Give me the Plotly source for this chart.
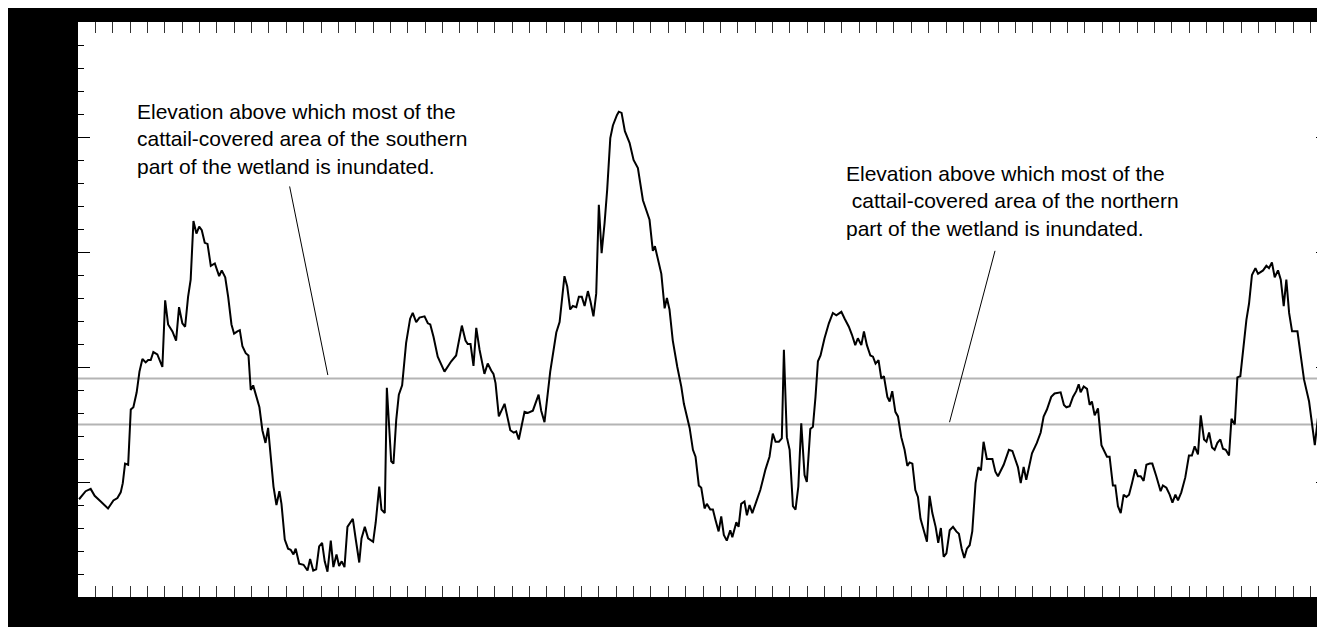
import plotly.graph_objects as go

# Time axis (months from start of record) and water-level elevation (ft above an arbitrary datum)
months = [0.06, 0.44, 0.73, 0.96, 1.31, 1.73, 2.04, 2.27, 2.46, 2.58, 2.71, 2.89, 3.04, 3.19, 3.38, 3.54, 3.71, 3.90, 4.04, 4.19,
          4.34, 4.57, 4.86, 5.02, 5.19, 5.44, 5.65, 5.82, 6.01, 6.17, 6.34, 6.49, 6.65, 6.82, 6.98, 7.13, 7.30, 7.46, 7.65, 7.88,
          8.13, 8.28, 8.48, 8.65, 8.84, 8.99, 9.18, 9.32, 9.47, 9.66, 9.82, 9.95, 10.09, 10.28, 10.45, 10.62, 10.80, 10.95, 11.10, 11.26,
          11.43, 11.60, 11.72, 11.91, 12.10, 12.25, 12.41, 12.54, 12.74, 12.99, 13.22, 13.37, 13.55, 13.72, 13.89, 14.06, 14.21, 14.37, 14.56, 14.71,
          14.89, 15.04, 15.19, 15.35, 15.52, 15.83, 16.00, 16.20, 16.33, 16.52, 16.71, 17.00, 17.15, 17.35, 17.48, 17.67, 17.79, 18.04, 18.17, 18.33,
          18.48, 18.67, 18.90, 19.13, 19.28, 19.48, 19.67, 19.96, 20.15, 20.29, 20.48, 20.72, 21.11, 21.50, 21.78, 22.11, 22.32, 22.45, 22.61, 22.78,
          22.94, 23.13, 23.41, 23.60, 23.80, 23.93, 24.05, 24.24, 24.57, 24.90, 25.10, 25.24, 25.39, 25.72, 25.91, 26.20, 26.53, 26.68, 26.87, 27.20,
          27.55, 27.74, 28.02, 28.18, 28.35, 28.50, 28.70, 28.85, 29.02, 29.18, 29.37, 29.52, 29.69, 29.85, 30.00, 30.16, 30.33, 30.48, 30.66, 30.81,
          31.04, 31.15, 31.31, 31.50, 31.77, 32.00, 32.25, 32.54, 32.92, 33.11, 33.23, 33.60, 33.79, 33.92, 34.07, 34.26, 34.52, 34.75, 34.90, 35.07,
          35.23, 35.42, 35.57, 35.76, 35.90, 36.09, 36.22, 36.42, 36.57, 36.72, 36.90, 37.05, 37.20, 37.37, 37.57, 37.69, 37.92, 38.05, 38.20, 38.39,
          38.53, 38.68, 38.84, 39.07, 39.30, 39.45, 39.60, 39.83, 40.02, 40.18, 40.37, 40.54, 40.66, 40.83, 40.99, 41.18, 41.33, 41.49, 41.66, 41.85,
          41.98, 42.18, 42.33, 42.48, 42.62, 42.77, 43.00, 43.25, 43.48, 43.68, 43.97, 44.16, 44.40, 44.58, 44.77, 44.92, 45.12, 45.27, 45.44, 45.64,
          45.79, 45.94, 46.11, 46.27, 46.42, 46.62, 46.75, 46.90, 47.08, 47.23, 47.42, 47.61, 47.77, 47.90, 48.06, 48.23, 48.38, 48.53, 48.71, 48.90,
          49.05, 49.21, 49.40, 49.55, 49.70, 49.86, 50.02, 50.21, 50.40, 50.59, 50.74, 50.90, 51.05, 51.20, 51.36, 51.51, 51.70, 51.86, 52.01, 52.16,
          52.35, 52.67, 52.84, 52.99, 53.32, 53.62, 53.82, 54.14, 54.30, 54.47, 54.62, 54.95, 55.23, 55.45, 55.62, 55.81, 56.06, 56.25, 56.60, 56.79,
          56.93, 57.12, 57.31, 57.50, 57.64, 57.75, 57.93, 58.12, 58.27, 58.40, 58.56, 58.75, 58.95, 59.14, 59.27, 59.42, 59.61, 59.75, 59.90, 60.06,
          60.23, 60.39, 60.54, 60.71, 60.90, 61.05, 61.21, 61.38, 61.54, 61.73, 61.88, 62.11, 62.36, 62.49, 62.69, 62.88, 63.04, 63.21, 63.36, 63.55,
          63.78, 63.99, 64.16, 64.32, 64.51, 64.67, 64.86, 65.00, 65.15, 65.32, 65.47, 65.63, 65.80, 65.95, 66.11, 66.30, 66.44, 66.63, 66.78, 66.95,
          67.10, 67.30, 67.45, 67.62, 67.82, 67.97, 68.26, 68.45, 68.60, 68.77, 68.93, 69.12, 69.28, 69.45, 69.60, 69.76, 69.93, 70.24, 70.41, 70.62,
          70.91, 71.24, 71.43, 71.58, 71.81]

water_level = [0.85, 0.92, 0.94, 0.88, 0.83, 0.77, 0.84, 0.86, 0.91, 0.99, 1.16, 1.15, 1.63, 1.65, 1.78, 1.96, 2.07, 2.04, 2.06, 2.06,
               2.13, 2.11, 2.00, 2.58, 2.37, 2.31, 2.23, 2.52, 2.38, 2.35, 2.61, 2.76, 3.27, 3.16, 3.22, 3.19, 3.08, 3.07, 2.88, 2.90,
               2.79, 2.84, 2.78, 2.61, 2.37, 2.29, 2.31, 2.32, 2.18, 2.12, 2.10, 1.80, 1.84, 1.73, 1.65, 1.45, 1.34, 1.47, 1.19, 0.96,
               0.80, 0.92, 0.81, 0.50, 0.42, 0.41, 0.37, 0.42, 0.29, 0.28, 0.23, 0.33, 0.23, 0.24, 0.44, 0.47, 0.31, 0.22, 0.49, 0.26,
               0.37, 0.27, 0.31, 0.26, 0.61, 0.68, 0.50, 0.30, 0.51, 0.61, 0.51, 0.48, 0.65, 0.96, 0.76, 0.73, 1.82, 1.18, 1.16, 1.54,
               1.76, 1.84, 2.21, 2.42, 2.47, 2.39, 2.43, 2.44, 2.38, 2.37, 2.26, 2.09, 1.96, 2.05, 2.10, 2.36, 2.23, 2.20, 2.20, 2.01,
               2.34, 2.15, 1.94, 2.03, 1.97, 1.94, 1.86, 1.57, 1.68, 1.45, 1.43, 1.44, 1.37, 1.61, 1.60, 1.62, 1.76, 1.62, 1.52, 1.96,
               2.30, 2.39, 2.79, 2.70, 2.50, 2.53, 2.52, 2.61, 2.61, 2.53, 2.66, 2.57, 2.44, 2.64, 3.41, 2.99, 3.25, 3.54, 3.99, 4.10,
               4.19, 4.22, 4.21, 4.05, 3.95, 3.80, 3.73, 3.45, 3.28, 3.01, 3.05, 2.81, 2.51, 2.60, 2.50, 2.23, 2.00, 1.83, 1.68, 1.58,
               1.47, 1.28, 1.22, 0.97, 0.95, 0.77, 0.81, 0.76, 0.76, 0.67, 0.57, 0.70, 0.54, 0.49, 0.58, 0.52, 0.65, 0.61, 0.81, 0.83,
               0.71, 0.80, 0.73, 0.83, 0.93, 1.02, 1.11, 1.22, 1.42, 1.35, 1.35, 1.38, 2.15, 1.39, 1.28, 0.79, 0.76, 0.96, 1.51, 1.06,
               1.00, 1.46, 1.48, 1.74, 2.05, 2.10, 2.25, 2.38, 2.47, 2.45, 2.48, 2.42, 2.35, 2.28, 2.19, 2.25, 2.19, 2.31, 2.19, 2.10,
               2.09, 2.03, 2.06, 1.90, 1.92, 1.74, 1.70, 1.79, 1.61, 1.57, 1.39, 1.28, 1.14, 1.17, 1.16, 0.93, 0.87, 0.68, 0.58, 0.48,
               0.88, 0.73, 0.61, 0.47, 0.60, 0.35, 0.38, 0.58, 0.61, 0.57, 0.55, 0.42, 0.34, 0.42, 0.45, 0.57, 0.99, 1.13, 1.10, 1.35,
               1.20, 1.20, 1.09, 1.05, 1.15, 1.28, 1.27, 1.13, 0.99, 1.13, 1.02, 1.25, 1.34, 1.43, 1.57, 1.63, 1.74, 1.77, 1.78, 1.67,
               1.65, 1.66, 1.74, 1.79, 1.85, 1.78, 1.83, 1.81, 1.67, 1.70, 1.58, 1.64, 1.32, 1.26, 1.22, 1.22, 0.97, 0.97, 0.79, 0.73,
               0.89, 0.87, 0.89, 0.99, 1.11, 1.05, 1.05, 1.01, 1.15, 1.16, 1.16, 1.05, 0.92, 0.97, 0.95, 0.89, 0.82, 0.89, 0.84, 0.91,
               1.04, 1.23, 1.23, 1.31, 1.24, 1.58, 1.37, 1.35, 1.43, 1.30, 1.28, 1.34, 1.37, 1.29, 1.28, 1.23, 1.55, 1.50, 1.91, 1.92,
               2.12, 2.41, 2.55, 2.80, 2.86, 2.81, 2.84, 2.88, 2.86, 2.91, 2.78, 2.84, 2.76, 2.53, 2.76, 2.47, 2.31, 2.31, 2.12, 1.89,
               1.70, 1.32, 1.57, 1.61, 1.41]

# Reference elevations
threshold_south = 1.9
threshold_north = 1.5

label_south = "Elevation above which most of the<br>cattail-covered area of the southern<br>part of the wetland is inundated."
label_north = "Elevation above which most of the<br>\u00a0cattail-covered area of the northern<br>part of the wetland is inundated."

# Axis extents
x_range = [0, 72]
y_range = [0, 5]

fig = go.Figure()
fig.add_trace(go.Scatter(x=months, y=water_level, mode="lines",
                         line=dict(color="black", width=2), showlegend=False, hoverinfo="skip"))

for lvl in (threshold_south, threshold_north):
    fig.add_shape(type="line", xref="paper", yref="y", x0=0, x1=1, y0=lvl, y1=lvl,
                  line=dict(color="#b4b4b4", width=2), layer="below")

# leader lines
fig.add_shape(type="line", xref="x", yref="y", x0=12.19, y0=3.57, x1=14.39, y1=1.93,
              line=dict(color="black", width=1))
fig.add_shape(type="line", xref="x", yref="y", x0=52.82, y0=3.01, x1=50.20, y1=1.52,
              line=dict(color="black", width=1))

fig.add_annotation(x=3.27, y=3.98, xref="x", yref="y", text=label_south, showarrow=False,
                   xanchor="left", yanchor="middle", align="left",
                   font=dict(family="Liberation Sans, Arial, sans-serif", size=21, color="black"))
fig.add_annotation(x=44.12, y=3.44, xref="x", yref="y", text=label_north, showarrow=False,
                   xanchor="left", yanchor="middle", align="left",
                   font=dict(family="Liberation Sans, Arial, sans-serif", size=21, color="black"))

fig.update_xaxes(range=x_range, showgrid=False, zeroline=False, showticklabels=False,
                 ticks="inside", ticklen=11, tickwidth=1, tickcolor="#333333",
                 tick0=0, dtick=1, mirror="ticks", showline=False)
fig.update_yaxes(range=y_range, showgrid=False, zeroline=False, showticklabels=False,
                 ticks="inside", ticklen=12, tickwidth=1, tickcolor="black",
                 tick0=0, dtick=1, mirror="ticks", showline=False,
                 minor=dict(ticks="inside", ticklen=6, tickwidth=1, tickcolor="black", dtick=0.2, tick0=0, showgrid=False))

fig.update_layout(width=1320, height=619, margin=dict(l=70, r=0, t=14, b=30, pad=0),
                  paper_bgcolor="black", plot_bgcolor="white")

fig.write_html("out.html")
